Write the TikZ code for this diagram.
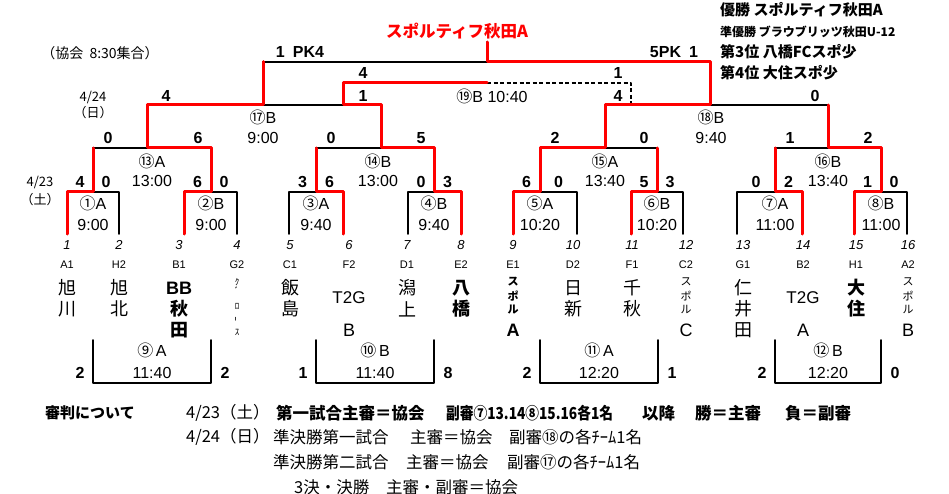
\documentclass[tikz,border=0pt]{standalone}
\usepackage{fontspec}
\setmainfont{Liberation Sans}
\newfontfamily\jp{Noto Sans CJK JP}
\definecolor{winred}{RGB}{255,0,0}
\tikzset{
  brk/.style={color=black,line width=1.8pt},
  win/.style={color=winred,line width=3pt},
  score/.style={font=\bfseries\fontsize{16}{16}\selectfont,inner sep=0pt},
  mlab/.style={font=\fontsize{16}{16}\selectfont,inner sep=0pt},
  tnum/.style={font=\itshape\fontsize{13}{13}\selectfont,inner sep=0pt},
  tcode/.style={font=\fontsize{11}{11}\selectfont,inner sep=0pt},
  tlat/.style={font=\fontsize{18}{18}\selectfont,inner sep=0pt},
  tname/.style={font=\jp\fontsize{18}{18}\selectfont,inner sep=0pt},
  tbold/.style={font=\jp\bfseries\fontsize{18}{18}\selectfont,inner sep=0pt},
  note/.style={font=\jp\fontsize{16.5}{16.5}\selectfont,inner sep=0pt,anchor=west},
  notebf/.style={note,font=\jp\bfseries\fontsize{16.5}{16.5}\selectfont},
  legend/.style={font=\jp\bfseries\fontsize{15}{15}\selectfont,inner sep=0pt,anchor=west}
}
\begin{document}
\begin{tikzpicture}[line cap=round,line join=round,x=1pt,y=-1pt]
\useasboundingbox (0,0) rectangle (949,494);
\foreach \n/\x in {1/67,2/119,3/184,4/237,5/289,6/343,7/408,8/461,9/513,10/577,11/631,12/683,13/737,14/802,15/854,16/907}
\coordinate (t\n) at (\x,234);
% first round
\foreach \u/\v/\m/\p/\q/\c/\g/\t [count=\i] in {1/2/93/4/0/①/A/9:00,3/4/211/6/0/②/B/9:00,5/6/316/3/6/③/A/9:40,7/8/434/0/3/④/B/9:40,9/10/540/6/0/⑤/A/10:20,11/12/657/5/3/⑥/B/10:20,13/14/775/0/2/⑦/A/11:00,15/16/881/1/0/⑧/B/11:00}
{
\draw[brk] (t\u) |- (\m,192) -| (t\v) (\m,192) -- (\m,148);
\path (t\u) -- (\m,234) coordinate[midway] (ml\i);
\path (\m,234) -- (t\v) coordinate[midway] (mr\i);
\node[score] (sl\i) at (ml\i |- 0,182) {\p};
\node[score] (sr\i) at (mr\i |- 0,182) {\q};
\node[mlab] (g\i) at (\m,203) {{\jp\c}\g};
\node[mlab] (tm\i) at (\m,225) {\t};
}
% second round
\foreach \a/\b/\m/\l/\p/\q/\c/\g/\t [count=\i] in {93/211/147/152/0/6/⑬/A/13:00,316/434/381/378/0/5/⑭/B/13:00,540/657/605/605/2/0/⑮/A/13:40,775/881/828/828/1/2/⑯/B/13:40}
{
\draw[brk] (\a,148) -- (\b,148) (\m,148) -- (\m,105);
\node[score] (ssl\i) at (\a+15,138) {\p};
\node[score] (ssr\i) at (\b-13,138) {\q};
\node[mlab] (sg\i) at (\l,161) {{\jp\c}\g};
\node[mlab] (stm\i) at (\l,181) {\t};
}
% semi finals, final, 3rd place
\draw[brk] (147,105) -- (381,105) (263,105) -- (263,61.7);
\draw[brk] (605,105) -- (828,105) (710,105) -- (710,61.7);
\draw[brk] (263,61.7) -- (710,61.7) (487,61.7) -- (487,42);
\draw[brk,line width=1.4pt,line cap=butt,dash pattern=on 4pt off 2.5pt] (487,83) -- (631,83) -- (631,105);
% winners
\draw[win] (t1) |- (93,192) -- (93,148);
\draw[win] (t3) |- (211,192) -- (211,148) -| (147,105) -| (263,61.7);
\draw[win] (t6) |- (316,192) -- (316,148);
\draw[win] (t8) |- (434,192) -- (434,148) -| (381,105) -| (343,83) -- (487,83);
\draw[win] (t9) |- (540,192) -- (540,148) -| (605,105) -| (710,61.7) -| (487,42);
\draw[win] (t11) |- (657,192) -- (657,148);
\draw[win] (t14) |- (775,192) -- (775,148);
\draw[win] (t15) |- (881,192) -- (881,148) -| (828,105);
\node[score] (fl) at (300,52) {1\hspace{8pt}PK4};
\node[score] (fr) at (674,52) {5PK\hspace{8pt}1};
\node[score] (thl) at (363,73) {4};
\node[score] (thr) at (618,73) {1};
\node[score] (sfa) at (166,96) {4};
\node[score] (sfb) at (363,96) {1};
\node[score] (sfc) at (618,96) {4};
\node[score] (sfd) at (815,96) {0};
\node[mlab] (third) at (492,96) {{\jp ⑲}B 10:40};
\node[mlab] (semia) at (263,117) {{\jp ⑰}B};
\node[mlab] (semiat) at (263,138) {9:00};
\node[mlab] (semib) at (711,117) {{\jp ⑱}B};
\node[mlab] (semibt) at (711,138) {9:40};
\node[font=\jp\bfseries\fontsize{16.5}{16.5}\selectfont,text=winred,inner sep=0pt] (champ) at (457,31) {スポルティフ秋田A};
% consolation
\foreach \a/\b/\l/\p/\q/\c/\g/\t [count=\i] in {93/211/152/2/2/⑨/A/11:40,316/434/375/1/8/⑩/B/11:40,540/658/599/2/1/⑪/A/12:20,775/881/828/2/0/⑫/B/12:20}
{
\draw[brk] (\a,340) -- (\a,383) -- (\b,383) -- (\b,340);
\node[score] (csl\i) at (\a-13,373) {\p};
\node[score] (csr\i) at (\b+14,373) {\q};
\node[mlab] (cg\i) at (\l,350) {{\jp\c}\,\g};
\node[mlab] (ctm\i) at (\l,373) {\t};
}
% teams
\foreach \x/\n/\c in {67/1/A1,119/2/H2,179/3/B1,237/4/G2,290/5/C1,349/6/F2,407/7/D1,461/8/E2,513/9/E1,573/10/D2,632/11/F1,686/12/C2,743/13/G1,803/14/B2,856/15/H1,908/16/A2}
{
\node[tnum] (num\n) at (\x,245) {\n};
\node[tcode] (code\n) at (\x,265) {\c};
}
\foreach \x/\a/\b [count=\i] in {67/旭/川,119/旭/北,290/飯/島,407/潟/上,573/日/新,632/千/秋}
{
\node[tname] (na\i) at (\x,288) {\a};
\node[tname] (nb\i) at (\x,309) {\b};
}
\foreach \x/\a/\b [count=\i] in {461/八/橋,856/大/住}
{
\node[tbold] (ba\i) at (\x,288) {\a};
\node[tbold] (bb\i) at (\x,309) {\b};
}
\node[tlat,font=\bfseries\fontsize{18}{18}\selectfont] (bbs) at (179,288) {BB};
\node[tbold] (bbm) at (179,309) {秋};
\node[tbold] (bbe) at (179,330) {田};
\node[tname] (nia) at (743,288) {仁};
\node[tname] (nib) at (743,309) {井};
\node[tname] (nic) at (743,330) {田};
\foreach \x/\l [count=\i] in {349/B,803/A}
{
\node[tlat,font=\fontsize{17}{17}\selectfont] (tg\i) at (\x,298) {T2G};
\node[tlat] (tgl\i) at (\x,330) {\l};
}
\foreach \x/\l/\w [count=\i] in {513/A/\bfseries,686/C/\mdseries,908/B/\mdseries}
{
\node[inner sep=0pt,font=\jp\w\fontsize{11}{11}\selectfont] (spa\i) at (\x,282) {ス};
\node[inner sep=0pt,font=\jp\w\fontsize{11}{11}\selectfont] (spb\i) at (\x,296) {ポ};
\node[inner sep=0pt,font=\jp\w\fontsize{11}{11}\selectfont] (spc\i) at (\x,310) {ル};
\node[tlat,font=\w\fontsize{18}{18}\selectfont] (spl\i) at (\x,330) {\l};
}
\node[inner sep=0pt,font=\jp\fontsize{9}{9}\selectfont] (gra) at (237,282) {ｸ};
\node[inner sep=0pt,font=\jp\fontsize{9}{9}\selectfont] (grb) at (237,291) {ﾞ};
\node[inner sep=0pt,font=\jp\fontsize{9}{9}\selectfont] (grc) at (237,306) {ﾛ};
\node[inner sep=0pt,font=\jp\fontsize{9}{9}\selectfont,rotate=90] (grd) at (237,319) {ｰ};
\node[inner sep=0pt,font=\jp\fontsize{9}{9}\selectfont] (gre) at (237,332) {ｽ};
% dates and legend
\node[inner sep=0pt,font=\jp\fontsize{14}{14}\selectfont] (meet) at (100,53) {（協会\ \ 8:30集合）};
\node[inner sep=0pt,font=\jp\fontsize{13}{13}\selectfont] (dayb) at (93,98) {4/24};
\node[inner sep=0pt,font=\jp\fontsize{13}{13}\selectfont] (daybw) at (93,113) {（日）};
\node[inner sep=0pt,font=\jp\fontsize{13}{13}\selectfont] (daya) at (40,183) {4/23};
\node[inner sep=0pt,font=\jp\fontsize{13}{13}\selectfont] (dayaw) at (40,200) {（土）};
\node[legend] (first) at (720,10) {優勝 スポルティフ秋田A};
\node[legend,font=\jp\bfseries\fontsize{12}{12}\selectfont] (second) at (720,32) {準優勝 ブラウブリッツ秋田U-12};
\node[legend] (place3) at (720,52) {第3位 八橋FCスポ少};
\node[legend] (place4) at (720,73) {第4位 大住スポ少};
% referees
\node[notebf,font=\jp\bfseries\fontsize{15}{15}\selectfont] (refs) at (45,413) {審判について};
\node[note] (ra) at (186,413) {4/23（土）};
\node[notebf] (rb) at (276,413) {第一試合主審＝協会};
\node[notebf] (rc) at (446,413) {\scalebox{0.83}[1]{副審⑦13.14⑧15.16各1名}};
\node[notebf] (rd) at (642,413) {以降};
\node[notebf] (re) at (695,413) {勝＝主審};
\node[notebf] (rf) at (785,413) {負＝副審};
\node[note] (sa) at (186,437) {4/24（日）};
\node[note] (sb) at (273,437) {準決勝第一試合};
\node[note] (sc) at (410,437) {主審＝協会};
\node[note] (sd) at (509,437) {副審⑱の各ﾁｰﾑ1名};
\node[note] (ua) at (273,462) {準決勝第二試合};
\node[note] (ub) at (406,462) {主審＝協会};
\node[note] (uc) at (507,462) {副審⑰の各ﾁｰﾑ1名};
\node[note] (va) at (294,487) {3決・決勝};
\node[note] (vb) at (386,487) {主審・副審＝協会};
\end{tikzpicture}
\end{document}
